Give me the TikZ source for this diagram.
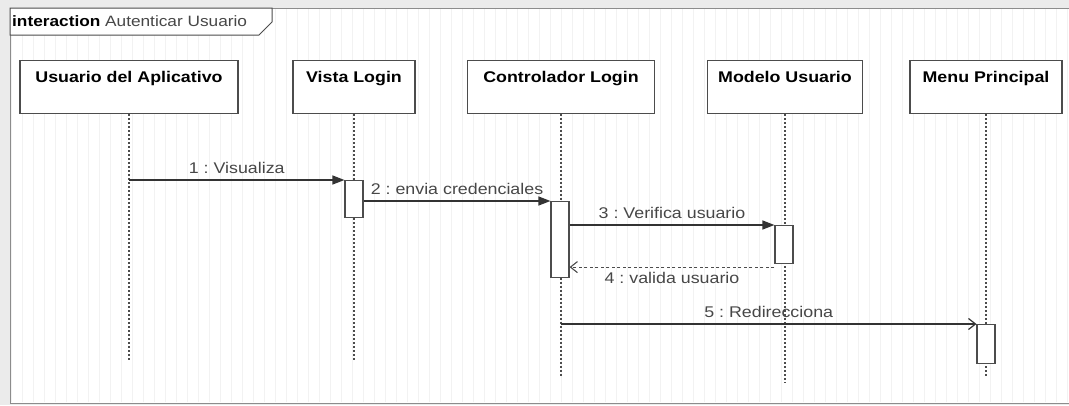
\documentclass[tikz,border=0pt]{standalone}
\usepackage{fontspec}
\setmainfont{Liberation Sans}[FakeStretch=1.15]
\usetikzlibrary{arrows.meta}
\usetikzlibrary{positioning}
\frenchspacing
\tikzset{
    lifebox/.style={
        draw=black!70,
        fill=white,
        line width=1.1pt,
        minimum height=53pt,
        inner sep=0pt
    },
    lifetitle/.style={
        anchor=north,
        yshift=-8pt,
        font=\fontsize{15.5}{17}\selectfont\bfseries
    },
    lifeline/.style={
        draw=black!70,
        line width=1.3pt,
        dash pattern=on 1.5pt off 2.5pt
    },
    act/.style={
        draw=black!70,
        fill=white,
        line width=1.1pt,
        minimum width=18pt,
        inner sep=0pt,
        anchor=north
    },
    msg/.style={
        draw=black!80,
        line width=1.2pt,
        -{Triangle[length=12pt, width=9pt]}
    },
    call/.style={
        draw=black!80,
        line width=1.2pt,
        -{Straight Barb[length=7pt, width=11pt]}
    },
    reply/.style={
        draw=black!70,
        line width=1.1pt,
        dash pattern=on 3pt off 2.5pt,
        -{Straight Barb[length=7pt, width=11pt]}
    },
    msglabel/.style={
        font=\fontsize{15.5}{17}\selectfont,
        text=black!72
    }
}

\begin{document}
\begin{tikzpicture}[x=1pt, y=-1pt]
  \useasboundingbox (0,0) rectangle (1069,405);
  \fill[black!8] (0,0) rectangle (1069,405);
  \fill[white] (10,8) rectangle (1069,403);
  % faint grid
  \draw[black!5, line width=0.6pt, step=11] (11,9) grid (1068,402);
  \draw[black!45, line width=1pt] (1069,8) -- (10,8) -- (10,403) -- (1069,403);

  % Frame tag
  \draw[black!70, line width=1pt, fill=white] (10,8) -- (272,8) -- (272,22) -- (259,35) -- (10,35) -- cycle;
  \node[anchor=west, inner sep=0pt, font=\fontsize{15}{17}\selectfont] (tag) at (12,21)
    {\textbf{interaction} \textcolor{black!72}{Autenticar Usuario}};

  % Lifeline heads
  \node[lifebox, minimum width=218pt, anchor=north, label={[lifetitle]north:Usuario del Aplicativo}] (usuario) at (129,60) {};
  \node[lifebox, minimum width=122pt, anchor=north, label={[lifetitle]north:Vista Login}] (vista) at (354,60) {};
  \node[lifebox, minimum width=187pt, anchor=north, label={[lifetitle]north:Controlador Login}] (ctrl) at (561,60) {};
  \node[lifebox, minimum width=155pt, anchor=north, label={[lifetitle]north:Modelo Usuario}] (modelo) at (785,60) {};
  \node[lifebox, minimum width=152pt, anchor=north, label={[lifetitle]north:Menu Principal}] (menu) at (986,60) {};

  % Lifeline ends
  \coordinate (usuarioEnd) at (129,362);
  \coordinate (vistaEnd) at (354,362);
  \coordinate (ctrlEnd) at (561,378);
  \coordinate (modeloEnd) at (785,383);
  \coordinate (menuEnd) at (986,378);

  % Lifelines
  \draw[lifeline] (usuario.south) -- (usuarioEnd);
  \draw[lifeline] (vista.south) -- (vistaEnd);
  \draw[lifeline] (ctrl.south) -- (ctrlEnd);
  \draw[lifeline] (modelo.south) -- (modeloEnd);
  \draw[lifeline] (menu.south) -- (menuEnd);

  % Activations
  \node[act, minimum height=37pt] (actVista) at (354,180) {};
  \node[act, minimum height=76pt] (actCtrl) at (560,201) {};
  \node[act, minimum height=38pt] (actModelo) at (784,225) {};
  \node[act, minimum height=39pt] (actMenu) at (986,324) {};
  \coordinate (retModelo) at ([yshift=-3pt]actModelo.south west);

  % Messages
  \draw[msg] (usuario |- actVista.north) -- (actVista.north west)
    node[msglabel, midway, above=2pt] {1 : Visualiza};
  \draw[msg] (actVista.east |- actCtrl.north) -- (actCtrl.north west)
    node[msglabel, midway, above=2pt] {2 : envia credenciales};
  \draw[msg] (actCtrl.east |- actModelo.north) -- (actModelo.north west)
    node[msglabel, midway, above=2pt] {3 : Verifica usuario};
  \draw[reply] (retModelo) -- (actCtrl.east |- retModelo)
    node[msglabel, midway, below=1pt] {4 : valida usuario};
  \draw[call] (ctrl |- actMenu.north) -- (actMenu.north west)
    node[msglabel, midway, above=2pt] {5 : Redirecciona};
\end{tikzpicture}
\end{document}
